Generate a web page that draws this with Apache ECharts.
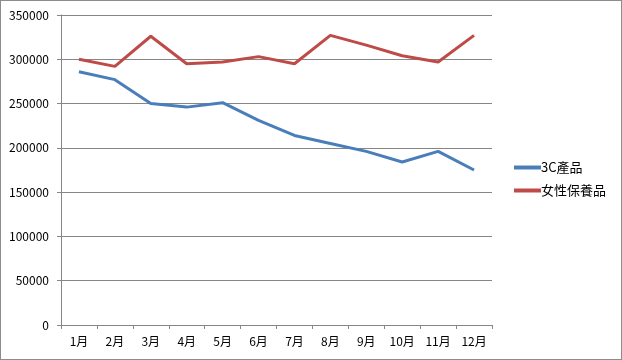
<!DOCTYPE html>
<html><head><meta charset="utf-8">
<script src="https://cdn.jsdelivr.net/npm/echarts@6/dist/echarts.min.js"></script>
<style>html,body{margin:0;padding:0;background:#fff}#c{width:622px;height:360px;box-sizing:border-box;border:1px solid #8c8c8c}</style>
</head><body><div id="c"></div>
<script>
const categories = ['1月','2月','3月','4月','5月','6月','7月','8月','9月','10月','11月','12月'];
const series3C = [286000, 277000, 250000, 246000, 251000, 231000, 214000, 205000, 196000, 184000, 196000, 175000];
const seriesBeauty = [300000, 292000, 326000, 295000, 297000, 303000, 295000, 327000, 316000, 304000, 297000, 327000];
const seriesNames = ['3C產品', '女性保養品'];
const font = '"Noto Sans CJK TC", "Noto Sans", sans-serif';
const chart = echarts.init(document.getElementById('c'));
chart.setOption({
  animation: false,
  grid: {left: 60, right: 129, top: 14, bottom: 34},
  legend: {
    orient: 'vertical', left: 508, top: 155,
    icon: 'rect', itemWidth: 27, itemHeight: 4, itemGap: 10,
    textStyle: {fontFamily: font, fontSize: 13, color: '#000', padding: [0,0,0,-5]},
    data: seriesNames
  },
  xAxis: {
    type: 'category', data: categories, boundaryGap: true,
    axisLine: {lineStyle: {color: '#868686', width: 1}},
    axisTick: {show: true, length: 4, alignWithLabel: false, lineStyle: {color: '#868686'}},
    axisLabel: {fontFamily: font, fontSize: 12, color: '#000', margin: 10}
  },
  yAxis: {
    type: 'value', min: 0, max: 350000, interval: 50000,
    axisLine: {show: true, lineStyle: {color: '#868686', width: 1}},
    axisTick: {show: true, length: 4, lineStyle: {color: '#868686'}},
    splitLine: {lineStyle: {color: '#868686', width: 1}},
    axisLabel: {fontFamily: font, fontSize: 12, color: '#000', margin: 12, formatter: v => String(v)}
  },
  series: [
    {name: seriesNames[0], type: 'line', data: series3C, showSymbol: false, symbol: 'none',
     lineStyle: {color: '#4a7ebb', width: 3}, itemStyle: {color: '#4a7ebb'}},
    {name: seriesNames[1], type: 'line', data: seriesBeauty, showSymbol: false, symbol: 'none',
     lineStyle: {color: '#be4b48', width: 3}, itemStyle: {color: '#be4b48'}}
  ]
});
</script></body></html>
